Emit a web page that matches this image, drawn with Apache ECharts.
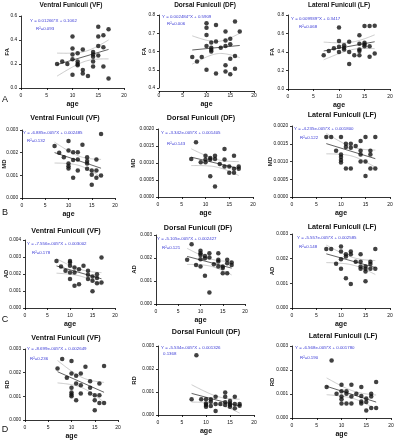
<!DOCTYPE html>
<html><head><meta charset="utf-8">
<script src="https://cdn.jsdelivr.net/npm/echarts@6/dist/echarts.min.js"></script>
<style>html,body{margin:0;padding:0;background:#fff}#c{width:395px;height:440px}</style>
</head><body><div id="c"></div>
<script>
// ---------- DATA ----------
const titles = ['Ventral Funiculi (VF)','Dorsal Funiculi (DF)','Lateral Funiculi (LF)',
  'Ventral Funiculi (VF)','Dorsal Funiculi (DF)','Lateral Funiculi (LF)',
  'Ventral Funiculi (VF)','Dorsal Funiculi (DF)','Lateral Funiculi (LF)',
  'Ventral Funiculi (VF)','Dorsal Funiculi (DF)','Lateral Funiculi (LF)'];
const metrics = ['FA','FA','FA','MD','MD','MD','AD','AD','AD','RD','RD','RD'];
const panelLetters = ['A','B','C','D'];
const xTicks = [0,5,10,15,20];
const yMin = [0,0.4,0,0,0,0,0,0,0,0,0,0];
const yMax = [0.6,0.8,0.8,0.003,0.002,0.002,0.004,0.003,0.003,0.003,0.003,0.003];
const yStep = [0.2,0.1,0.2,0.001,0.0005,0.0005,0.001,0.001,0.001,0.001,0.001,0.001];
const yDecimals = [1,1,1,3,4,4,3,3,3,3,3,3];
const slopes = [0.01266,0.002484,0.009939,-6.885e-5,-3.342e-5,-4.235e-5,-7.556e-5,-5.105e-5,-5.557e-5,-8.699e-5,-5.534e-5,-6.568e-5];
const intercepts = [0.1062,0.5909,0.3417,0.002485,0.001405,0.001800,0.003002,0.002427,0.002585,0.002649,0.001326,0.001780];
const eqLabels = ['Y = 0.01266*X + 0.1062','Y = 0.002484*X + 0.5909','Y = 0.009939*X + 0.3417',
  'Y = -6.885e-005*X + 0.002485','Y = -3.342e-005*X + 0.001405','Y = -4.235e-005*X + 0.001800',
  'Y = -7.556e-005*X + 0.003002','Y = -5.105e-005*X + 0.002427','Y = -5.557e-005*X + 0.002585',
  'Y = -8.699e-005*X + 0.002649','Y = -5.534e-005*X + 0.001326','Y = -6.568e-005*X + 0.001780'];
const r2Labels = ['R²=0.093','R²=0.006','R²=0.068','R²=0.132','R²=0.143','R²=0.122',
  'R²=0.178','R²=0.121','R²=0.148','R²=0.236','0.1368','R²=0.190'];

const vfFA_age = [7,8,9,10,10,10,10,10,11,11,11,11,12,12,12,13,14,14,14,14,14,15,15,15,15,16,16,16,17,17];
const vfFA = [0.20,0.22,0.20,0.43,0.33,0.28,0.24,0.11,0.29,0.22,0.20,0.19,0.32,0.15,0.12,0.10,0.30,0.28,0.26,0.22,0.18,0.51,0.43,0.35,0.27,0.44,0.34,0.18,0.49,0.08];
const dfFA_age = [7,8,9,10,10,10,10,10,11,11,11,11,12,12,12,13,14,14,14,14,14,15,15,15,15,16,16,16,17];
const dfFA = [0.57,0.545,0.57,0.755,0.73,0.69,0.63,0.50,0.65,0.62,0.61,0.60,0.745,0.655,0.48,0.62,0.71,0.66,0.63,0.525,0.49,0.67,0.64,0.56,0.475,0.765,0.575,0.505,0.71];
const lfFA_age = [7,8,9,10,10,10,10,11,11,11,12,12,12,13,14,14,14,14,14,15,15,15,15,16,16,16,17,17];
const lfFA = [0.366,0.41,0.44,0.666,0.52,0.456,0.40,0.474,0.445,0.427,0.51,0.40,0.27,0.366,0.58,0.49,0.427,0.41,0.366,0.68,0.50,0.48,0.463,0.68,0.463,0.35,0.684,0.384];
const vfMD_age = [7,8,9,10,10,10,10,10,11,11,11,12,12,12,13,14,14,14,14,15,15,15,16,16,16,17,17];
const vfMD = [0.00229,0.00200,0.00180,0.00251,0.00210,0.00152,0.00140,0.00130,0.00202,0.00168,0.00089,0.00202,0.00170,0.00121,0.00235,0.00180,0.00163,0.00152,0.00129,0.00121,0.00103,0.00058,0.00170,0.00121,0.00089,0.00282,0.00099];
const dfMD_age = [7,8,9,10,10,10,11,11,11,12,12,12,13,14,14,14,15,15,16,16,16,17,17];
const dfMD = [0.00112,0.00161,0.00102,0.00121,0.00110,0.00102,0.00115,0.00110,0.00061,0.00121,0.00112,0.00031,0.00097,0.00141,0.00110,0.00090,0.00090,0.00071,0.00121,0.00083,0.00071,0.00090,0.00083];
const lfMD_age = [7,8,9,10,10,10,10,10,11,11,11,12,12,12,13,14,14,14,14,15,15,15,16,16,16,17,17];
const lfMD = [0.00169,0.00169,0.00130,0.00169,0.00120,0.00113,0.00104,0.00097,0.00150,0.00141,0.00080,0.00150,0.00139,0.00080,0.00144,0.00158,0.00130,0.00120,0.00100,0.00169,0.00100,0.00059,0.00130,0.00120,0.00080,0.00169,0.00080];
const vfAD_age = [7,8,9,10,10,10,10,10,11,11,11,12,12,13,14,14,14,15,15,15,16,16,16,17,17];
const vfAD = [0.00277,0.00244,0.00219,0.00277,0.00267,0.00248,0.00209,0.00170,0.00238,0.00209,0.00131,0.00228,0.00140,0.00248,0.00219,0.00195,0.00170,0.00185,0.00160,0.00098,0.00199,0.00176,0.00146,0.00297,0.00150];
const dfAD_age = [7,8,9,10,10,10,10,10,11,11,11,12,12,12,13,14,14,14,14,15,15,15,16,16,16,17,17];
const dfAD = [0.00192,0.00260,0.00170,0.00231,0.00221,0.00213,0.00195,0.00163,0.00209,0.00199,0.00123,0.00221,0.00202,0.00050,0.00173,0.00221,0.00192,0.00185,0.00163,0.00163,0.00156,0.00134,0.00192,0.00177,0.00134,0.00180,0.00170];
const lfAD_age = [7,8,9,10,10,10,10,11,11,11,12,12,12,13,14,14,14,14,15,15,15,15,16,16,16,17,17];
const lfAD = [0.00239,0.00239,0.00179,0.00249,0.00229,0.00198,0.00159,0.00218,0.00209,0.00121,0.00229,0.00218,0.00097,0.00188,0.00218,0.00188,0.00168,0.00159,0.00168,0.00159,0.00148,0.00108,0.00188,0.00178,0.00159,0.00239,0.00159];
const vfRD_age = [7,8,9,10,10,10,10,10,10,11,11,11,12,12,12,13,14,14,14,15,15,15,16,16,16,17,17];
const vfRD = [0.00218,0.00258,0.00178,0.00249,0.00197,0.00136,0.00116,0.00108,0.00100,0.00187,0.00154,0.00083,0.00197,0.00147,0.00112,0.00225,0.00164,0.00136,0.00112,0.00105,0.00083,0.00041,0.00154,0.00105,0.00072,0.00228,0.00072];
const dfRD_age = [7,8,9,10,10,10,10,11,11,11,12,12,12,13,14,14,14,14,15,15,15,15,16,16,16,17,17];
const dfRD = [0.00069,0.00260,0.00069,0.00069,0.00050,0.00043,0.00036,0.00069,0.00058,0.00039,0.00079,0.00048,0.00017,0.00048,0.00098,0.00079,0.00055,0.00043,0.00061,0.00050,0.00043,0.00036,0.00079,0.00048,0.00029,0.00048,0.00040];
const lfRD_age = [7,8,9,10,10,10,10,10,11,11,11,12,12,12,13,14,14,14,14,15,15,15,16,16,16,17,17];
const lfRD = [0.00129,0.00240,0.00101,0.00139,0.00111,0.00090,0.00078,0.00060,0.00111,0.00101,0.00060,0.00139,0.00090,0.00060,0.00101,0.00129,0.00092,0.00069,0.00060,0.00081,0.00067,0.00031,0.00101,0.00090,0.00042,0.00150,0.00042];

const ageSets = [vfFA_age,dfFA_age,lfFA_age,vfMD_age,dfMD_age,lfMD_age,vfAD_age,dfAD_age,lfAD_age,vfRD_age,dfRD_age,lfRD_age];
const valSets = [vfFA,dfFA,lfFA,vfMD,dfMD,lfMD,vfAD,dfAD,lfAD,vfRD,dfRD,lfRD];

// ---------- LAYOUT (pixels) ----------
// [left, top, width, height, titleX, titleY, titleSize, eqDx, eqDy, r2Dx, r2Dy, yNameGap]
const layout = [
  [21,16,103,72, 71,5,6.5, 9,5, 15,13, 8.5],
  [159,15,95,73, 205,5,6.5, 3,2, 8,9, 9.5],
  [288,15,102,74, 339,5,6.5, 3,4, 11,12, 10.5],
  [22,130,93,68, 65,118,7.2, 1,3, 5,11, 12.5],
  [158,129,95,68, 201,118,7.2, 3,4, 9,15, 19.5],
  [292,126,98,71, 342,115,7.2, 2,3, 8,12, 16.5],
  [25,240,90,68, 66,231,7.2, 2,4, 7,13, 13.5],
  [156,235,89,69, 198,228,7.2, 1,4, 6,13, 16.5],
  [292,234,98,74, 342,227,7.2, 5,4, 7,13, 14.5],
  [25,349,93,71, 66,338,7.2, 2,0, 5,10, 12.5],
  [158,346,96,69, 206,332,7.2, 3,2, 5,8, 18.5],
  [292,346,99,72, 343,336,7.2, 3,2, 8,12, 14.5]
];
const letterPos = [[5,100],[5,213],[5,320],[5,430]];

const FONT = '"Liberation Sans", Arial, sans-serif';
const BLUE = '#3b3bd6';

function bandLines(ages, vals, a, b) {
  const n = ages.length;
  const xbar = ages.reduce((s,v)=>s+v,0)/n;
  let sxx = 0, sse = 0;
  for (let k=0;k<n;k++){ sxx += (ages[k]-xbar)**2; const r = vals[k]-(a+b*ages[k]); sse += r*r; }
  const s = Math.sqrt(sse/(n-2)), t = 2.05;
  const x0 = Math.min(...ages), x1 = Math.max(...ages);
  const up=[], lo=[];
  for (let x=x0; x<=x1+1e-9; x+=0.5){
    const yh = a+b*x, h = t*s*Math.sqrt(1/n + (x-xbar)**2/sxx);
    up.push([x,yh+h]); lo.push([x,yh-h]);
  }
  return [up,lo];
}

const grids=[], xAxes=[], yAxes=[], series=[], graphics=[];
for (let i=0;i<12;i++){
  const L = layout[i];
  const ages = ageSets[i], vals = valSets[i], a = intercepts[i], b = slopes[i];
  const dec = yDecimals[i];
  grids.push({left:L[0], top:L[1], width:L[2], height:L[3], containLabel:false, outerBoundsMode:'none'});
  xAxes.push({gridIndex:i, type:'value', min:xTicks[0], max:xTicks[xTicks.length-1], interval:xTicks[1]-xTicks[0], offset:3,
    name:'age', nameLocation:'middle', nameGap:10, nameMoveOverlap:false,
    nameTextStyle:{fontFamily:FONT, fontWeight:'bold', fontSize:7, color:'#111'},
    axisLine:{lineStyle:{color:'#000', width:0.8}},
    axisTick:{length:2, lineStyle:{color:'#000', width:0.8}},
    axisLabel:{fontSize:5, margin:2.5, color:'#111', fontFamily:FONT},
    splitLine:{show:false}});
  yAxes.push({gridIndex:i, type:'value', min:yMin[i], max:yMax[i], interval:yStep[i], offset:2,
    name:metrics[i], nameLocation:'middle', nameGap:L[11], nameRotate:90, nameMoveOverlap:false,
    nameTextStyle:{fontFamily:FONT, fontWeight:'bold', fontSize:6, color:'#111'},
    axisLine:{show:true, lineStyle:{color:'#000', width:0.8}},
    axisTick:{show:true, length:2, lineStyle:{color:'#000', width:0.8}},
    axisLabel:{fontSize:4.8, margin:1.8, color:'#111', fontFamily:FONT, formatter:v=>Number(v).toFixed(dec)},
    splitLine:{show:false}});
  const [up, lo] = bandLines(ages, vals, a, b);
  const x0 = Math.min(...ages), x1 = Math.max(...ages);
  series.push({type:'line', xAxisIndex:i, yAxisIndex:i, data:up, smooth:true, showSymbol:false, silent:true,
    lineStyle:{color:'#b5b5b5', width:0.7}, z:1});
  series.push({type:'line', xAxisIndex:i, yAxisIndex:i, data:lo, smooth:true, showSymbol:false, silent:true,
    lineStyle:{color:'#b5b5b5', width:0.7}, z:1});
  series.push({type:'line', xAxisIndex:i, yAxisIndex:i, data:[[x0,a+b*x0],[x1,a+b*x1]], showSymbol:false, silent:true,
    lineStyle:{color:'#3a3a3a', width:0.8}, z:2});
  series.push({type:'scatter', xAxisIndex:i, yAxisIndex:i, data:ages.map((g,k)=>[g,vals[k]]),
    symbol:'circle', symbolSize:4.5, itemStyle:{color:'#111'}, silent:true, z:3});
  graphics.push({type:'text', x:L[4], y:L[5], style:{text:titles[i], font:'bold '+L[6]+'px '+FONT, fill:'#111',
    textAlign:'center', textVerticalAlign:'middle', align:'center', verticalAlign:'middle'}});
  graphics.push({type:'text', x:L[0]+L[7], y:L[1]+L[8], style:{text:eqLabels[i], font:'4.4px '+FONT, fill:BLUE,
    textAlign:'left', textVerticalAlign:'middle', align:'left', verticalAlign:'middle'}});
  graphics.push({type:'text', x:L[0]+L[9], y:L[1]+L[10], style:{text:r2Labels[i], font:'4.4px '+FONT, fill:BLUE,
    textAlign:'left', textVerticalAlign:'middle', align:'left', verticalAlign:'middle'}});
}
panelLetters.forEach((t,k)=>{
  graphics.push({type:'text', x:letterPos[k][0], y:letterPos[k][1], style:{text:t, font:'9px '+FONT, fill:'#111',
    textAlign:'center', textVerticalAlign:'middle', align:'center', verticalAlign:'middle'}});
});

const chart = echarts.init(document.getElementById('c'));
chart.setOption({animation:false, backgroundColor:'#fff', grid:grids, xAxis:xAxes, yAxis:yAxes, series:series, graphic:graphics});
</script></body></html>
